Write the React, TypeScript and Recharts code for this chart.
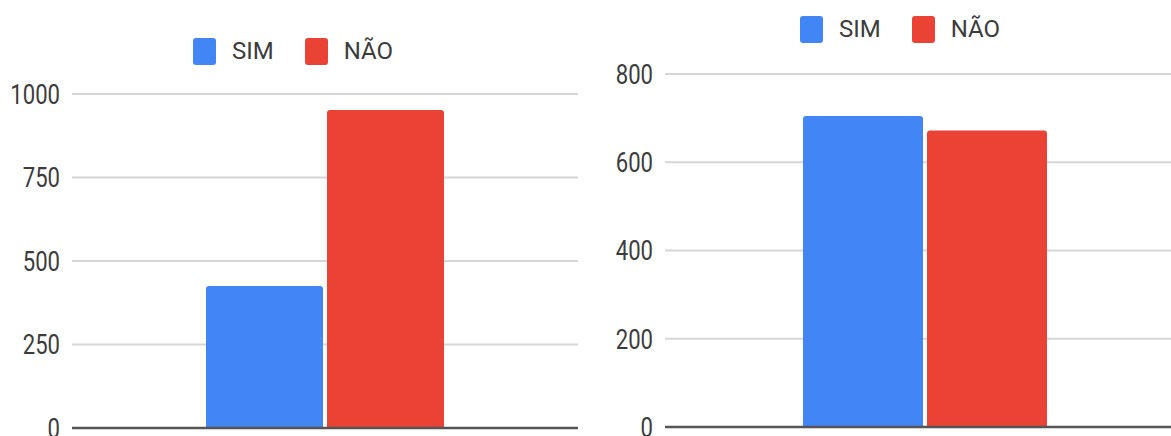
import React from 'react'
import { BarChart, Bar, XAxis, YAxis, CartesianGrid, Legend, ReferenceLine } from 'recharts'

const categories = ['Resposta']
const seriesNames = ['SIM', 'NÃO']
const seriesColors = ['#4285F4', '#EA4335']

const leftSim = [425]
const leftNao = [952]
const leftTicks = [0, 250, 500, 750, 1000]

const rightSim = [705]
const rightNao = [672]
const rightTicks = [0, 200, 400, 600, 800]

const FONT = 'Roboto, "Noto Sans", sans-serif'
const LEGEND_H = 30

const buildRows = (sim: number[], nao: number[]) =>
  categories.map((c, i) => ({ name: c, SIM: sim[i], NAO: nao[i] }))

// narrow tick labels: Roboto squeezed horizontally
const NarrowTick = ({ x, y, payload }: any) => (
  <g transform={`translate(${x},${y}) scale(0.79,1)`}>
    <text x={0} y={0} dy="0.355em" textAnchor="end" fill="#3c3c3c" fontSize={28} fontFamily={FONT}>
      {payload.value}
    </text>
  </g>
)

const LegendContent = () => (
  <div style={{ display: 'flex', justifyContent: 'center', alignItems: 'center', height: LEGEND_H, fontFamily: FONT }}>
    {seriesNames.map((s, i) => (
      <div key={s} style={{ display: 'flex', alignItems: 'center', marginRight: i === 0 ? 31 : 0 }}>
        <span
          style={{
            display: 'inline-block',
            width: 23,
            height: 27,
            borderRadius: 3,
            background: seriesColors[i],
            marginRight: 16,
          }}
        />
        <span style={{ fontSize: 24, color: '#3c3c3c' }}>{s}</span>
      </div>
    ))}
  </div>
)

interface PanelProps {
  left: number
  width: number
  yWidth: number
  top: number
  bottom: number
  legendTop: number
  legendLeft: number
  categoryGap: number
  sim: number[]
  nao: number[]
  ticks: number[]
}

function Panel({ left, width, yWidth, top, bottom, legendTop, legendLeft, categoryGap, sim, nao, ticks }: PanelProps) {
  const max = ticks[ticks.length - 1]
  return (
    <div style={{ position: 'absolute', left, top: 0 }}>
      <BarChart
        width={width}
        height={436}
        data={buildRows(sim, nao)}
        margin={{ top: top - LEGEND_H, right: 0, bottom, left: 0 }}
        barCategoryGap={categoryGap}
        barGap={4}
      >
        <CartesianGrid
          horizontal
          vertical={false}
          horizontalValues={ticks.slice(1)}
          stroke="#d6d6d6"
          strokeWidth={2}
        />
        <XAxis dataKey="name" tick={false} tickLine={false} height={0} axisLine={false} />
        <YAxis
          width={yWidth}
          domain={[0, max]}
          ticks={ticks}
          interval={0}
          axisLine={false}
          tickLine={false}
          tickSize={0}
          tickMargin={12}
          tick={<NarrowTick />}
        />
        <Legend
          verticalAlign="top"
          height={LEGEND_H}
          content={<LegendContent />}
          wrapperStyle={{ top: legendTop, left: legendLeft, width: 'auto' }}
        />
        <Bar dataKey="SIM" name={seriesNames[0]} fill={seriesColors[0]} radius={[3, 3, 0, 0]} isAnimationActive={false} />
        <Bar dataKey="NAO" name={seriesNames[1]} fill={seriesColors[1]} radius={[3, 3, 0, 0]} isAnimationActive={false} />
        <ReferenceLine y={0} stroke="#555" strokeWidth={2.5} />
      </BarChart>
    </div>
  )
}

export default function App() {
  return (
    <div
      style={{
        position: 'fixed',
        left: 0,
        top: 0,
        width: 1171,
        height: 436,
        overflow: 'hidden',
        background: '#fff',
      }}
    >
      <Panel
        left={0}
        width={578}
        yWidth={72}
        top={94}
        bottom={8}
        legendTop={36}
        legendLeft={193}
        categoryGap={134}
        sim={leftSim}
        nao={leftNao}
        ticks={leftTicks}
      />
      <Panel
        left={580}
        width={605}
        yWidth={85}
        top={74}
        bottom={9}
        legendTop={14}
        legendLeft={220}
        categoryGap={138}
        sim={rightSim}
        nao={rightNao}
        ticks={rightTicks}
      />
    </div>
  )
}
